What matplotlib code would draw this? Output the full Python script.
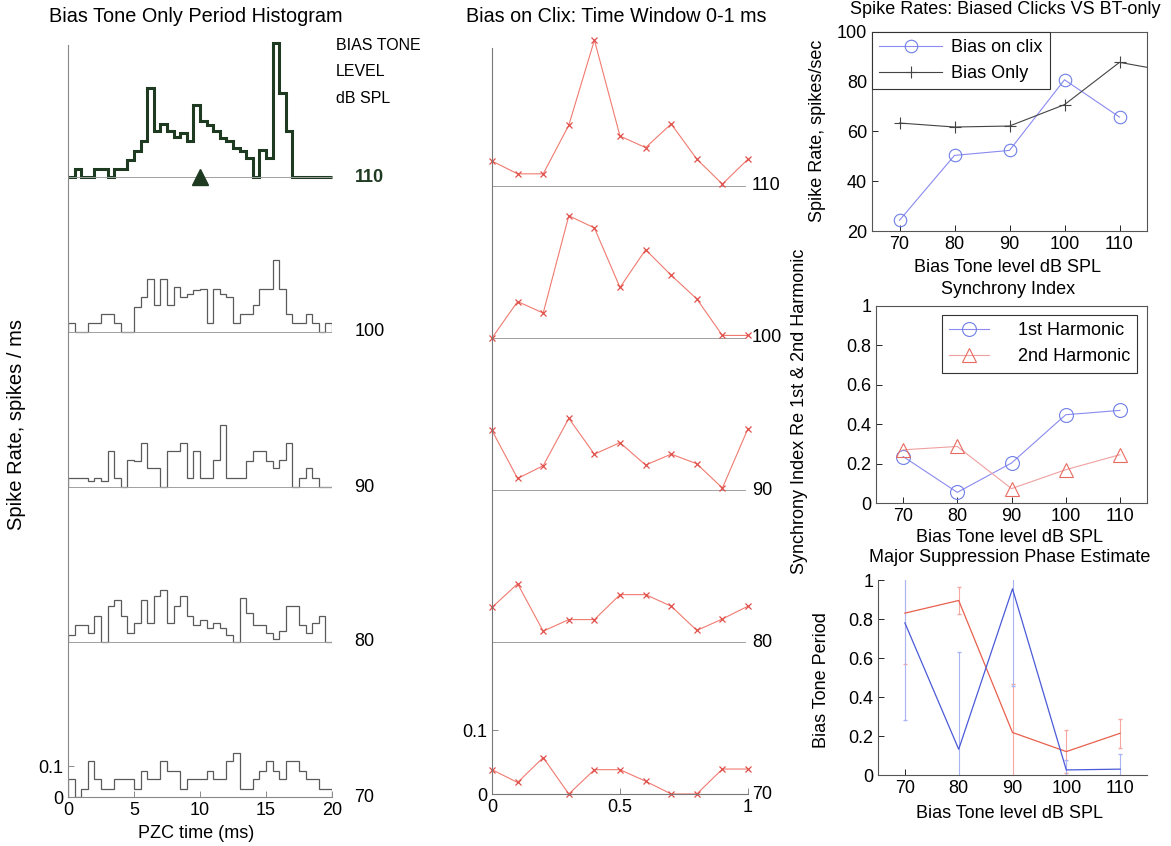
import numpy as np
import matplotlib
matplotlib.use('Agg')
import matplotlib.pyplot as plt

plt.rcParams['font.family'] = ['Liberation Sans', 'DejaVu Sans']
plt.rcParams['font.size'] = 13
plt.rcParams['xtick.direction'] = 'in'
plt.rcParams['ytick.direction'] = 'in'

# ---- data: period histograms (spikes/ms), 0.5 ms bins over 0-20 ms
levels = [70, 80, 90, 100, 110]
hist_70 = [.059, 0, .026, .116, .059, .026, .026, .059, .059, .059,
           .026, .084, .059, .059, .116, .084, .084, .026, .059, .059,
           .059, .084, .059, .059, .116, .143, .026, .026, .059, .084,
           .116, .084, .059, .116, .116, .084, .059, .059, .026, .026]
hist_80 = [.024, .056, .056, .029, .083, 0, .115, .137, .083, .029,
           .061, .137, .061, .147, .169, .061, .115, .147, .083, .056,
           .072, .045, .061, .045, .024, 0, .142, .094, .056, .056,
           .029, .011, .034, .115, .115, .056, .029, .061, .083, 0]
hist_90 = [.029, .029, .029, .018, .029, .018, .115, .029, 0, .086,
           .083, .142, .061, .061, 0, .115, .115, .142, .029, .115,
           .029, .029, .088, .201, .029, .029, .029, .083, .115, .115,
           .083, .061, .088, .142, 0, .029, .061, .029, 0, 0]
hist_100 = [.029, 0, 0, .029, .029, .059, .059, .029, 0, 0,
            .081, .113, .172, .086, .172, .086, .145, .113, .124, .137,
            .140, .029, .140, .124, .113, .029, .059, .059, .086, .140,
            .140, .231, .140, .059, .029, .029, .059, .029, 0, .029]
hist_110 = [0, .027, 0, 0, .027, .027, 0, .027, .027, .056,
            .083, .115, .287, .147, .171, .147, .128, .142, .115, .231,
            .180, .169, .147, .126, .117, .094, .083, .061, 0, .088,
            .061, .432, .271, .149, 0, 0, 0, 0, 0, 0]
hists = [hist_70, hist_80, hist_90, hist_100, hist_110]
bin_edges = np.linspace(0, 20, 41)
marker_time = 10

# ---- data: bias on clicks, 0-1 ms window
win_t = np.linspace(0, 1, 11)
win_70 = [.038, .018, .057, 0, .038, .038, .020, 0, 0, .039, .039]
win_80 = [.054, .091, .017, .035, .035, .074, .074, .056, .018, .036, .056]
win_90 = [.093, .018, .038, .112, .056, .074, .039, .056, .041, .003, .096]
win_100 = [0, .057, .039, .191, .172, .079, .138, .098, .061, .004, .004]
win_110 = [.039, .019, .019, .095, .228, .078, .060, .097, .042, .003, .042]
wins = [win_70, win_80, win_90, win_100, win_110]

# ---- data: summary panels
rate_clix = [24.3, 50.4, 52.4, 80.8, 65.8]
rate_only_lv = [70, 80, 90, 100, 110, 120]
rate_only = [63.4, 61.8, 62.2, 70.8, 87.8, 83.8]
sync_h1 = [0.236, 0.054, 0.203, 0.448, 0.47]
sync_h2 = [0.27, 0.287, 0.073, 0.169, 0.245]
phase_b = [0.78, 0.132, 0.955, 0.026, 0.03]
phase_b_err = [0.5, 0.5, 0.5, 0.05, 0.08]
phase_r = [0.83, 0.895, 0.218, 0.12, 0.214]
phase_r_err = [0.26, 0.07, 0.25, 0.11, 0.075]

W, H = 1171, 846
fig = plt.figure(figsize=(W / 100, H / 100), dpi=100)


def rect(left, top, right, bottom):
    return [left / W, 1 - bottom / H, (right - left) / W, (bottom - top) / H]


def ftext(x, y, s, **kw):
    fig.text(x / W, 1 - y / H, s, **kw)


# ---------------- left: period histograms
ax1 = fig.add_axes(rect(68, 45, 332, 797))
hist_off = [0, 0.5, 1.0, 1.5, 2.0]
for lv, h, off in zip(levels, hists, hist_off):
    vals = np.array(h) + off
    ax1.plot([0, 20], [off, off], color='#a0a0a0', lw=0.7)
    if lv == 110:
        ax1.stairs(vals, bin_edges, baseline=off, color='#1e3a20', lw=2.2,
                   clip_on=False)
        ax1.plot(marker_time, off, marker='^', color='#1e3a20', ms=12,
                 clip_on=False)
        ax1.text(21.7, off, str(lv), va='center', ha='left',
                 color='#1e3a20', fontweight='bold', clip_on=False)
    else:
        ax1.stairs(vals, bin_edges, baseline=off, color='#5a5a5a', lw=0.9)
        ax1.text(21.7, off, str(lv), va='center', ha='left', clip_on=False)
ax1.set_xlim(0, 20)
ax1.set_ylim(0, (797 - 45) / 310)
ax1.set_xticks([0, 5, 10, 15, 20])
ax1.set_yticks([0, 0.1])
ax1.set_yticklabels(['0', '0.1'])
ax1.tick_params(length=4, width=0.6, color='#777')
for s in ['top', 'right']:
    ax1.spines[s].set_visible(False)
for s in ['left', 'bottom']:
    ax1.spines[s].set_color('#888')
    ax1.spines[s].set_linewidth(0.8)

ftext(196, 17, 'Bias Tone Only Period Histogram', ha='center', va='center',
      fontsize=14.3)
ftext(17, 424, 'Spike Rate, spikes / ms', rotation=90, ha='center',
      va='center', fontsize=14.5)
ftext(196, 833, 'PZC time (ms)', ha='center', va='center')
ftext(336, 45, 'BIAS TONE', ha='left', va='center', fontsize=11.5)
ftext(336, 72, 'LEVEL', ha='left', va='center', fontsize=11.5)
ftext(336, 98, 'dB SPL', ha='left', va='center', fontsize=11.5)

# ---------------- middle: bias on clicks
ax2 = fig.add_axes(rect(492, 48, 748, 794))
win_off = [0, 0.2375, 0.475, 0.7125, 0.95]
for lv, w, off in zip(levels, wins, win_off):
    ax2.plot([0, 0.99], [off, off], color='#a0a0a0', lw=0.7)
    ax2.plot(win_t, np.array(w) + off, color='#f07a70', lw=0.8,
             marker='x', ms=4, mew=0.9, mec='#e0504a', clip_on=False)
    ax2.text(1.016, off, str(lv), va='center', ha='left', clip_on=False)
ax2.set_xlim(0, 1)
ax2.set_ylim(0, (794 - 48) / 640)
ax2.set_xticks([0, 0.5, 1])
ax2.set_xticklabels(['0', '0.5', '1'])
ax2.set_yticks([0, 0.1])
ax2.set_yticklabels(['0', '0.1'])
ax2.tick_params(length=4, width=0.6, color='#777')
for s in ['top', 'right']:
    ax2.spines[s].set_visible(False)
for s in ['left', 'bottom']:
    ax2.spines[s].set_color('#777')
    ax2.spines[s].set_linewidth(0.8)
ftext(616, 17, 'Bias on Clix: Time Window 0-1 ms', ha='center', va='center',
      fontsize=14.2)

# ---------------- right top: spike rates
ax3 = fig.add_axes(rect(872, 32, 1147, 231))
ax3.plot(levels, rate_clix, color='#8a8af0', lw=0.8, marker='o', ms=9,
         mfc='none', mec='#6f7fe6', mew=0.8, label='Bias on clix')
ax3.plot(rate_only_lv, rate_only, color='#444', lw=0.8, marker='+', ms=9,
         mew=0.8, label='Bias Only')
ax3.set_xlim(65, 115)
ax3.set_ylim(20, 100)
ax3.set_xticks([70, 80, 90, 100, 110])
ax3.set_yticks([20, 40, 60, 80, 100])
leg = ax3.legend(loc='upper left', bbox_to_anchor=(0, 1), borderaxespad=0,
                 fancybox=False, edgecolor='#333', fontsize=13,
                 handlelength=3.5, handletextpad=0.5, framealpha=1)
leg.get_frame().set_linewidth(0.8)
ftext(1005, 10, 'Spike Rates: Biased Clicks VS BT-only', ha='center',
      va='center')
ftext(817, 131, 'Spike Rate, spikes/sec', rotation=90, ha='center',
      va='center')
ftext(1008, 268, 'Bias Tone level dB SPL', ha='center', va='center')

# ---------------- right middle: synchrony
ax4 = fig.add_axes(rect(876, 306, 1147, 503))
ax4.plot(levels, sync_h1, color='#8a8af0', lw=0.8, marker='o', ms=10,
         mfc='none', mec='#6f7fe6', mew=0.8, label='1st Harmonic')
ax4.plot(levels, sync_h2, color='#f0a0a0', lw=0.8, marker='^', ms=10,
         mfc='none', mec='#e86a60', mew=0.8, label='2nd Harmonic')
ax4.set_xlim(65, 115)
ax4.set_ylim(0, 1)
ax4.set_xticks([70, 80, 90, 100, 110])
ax4.set_yticks([0, 0.2, 0.4, 0.6, 0.8, 1])
ax4.set_yticklabels(['0', '0.2', '0.4', '0.6', '0.8', '1'])
leg = ax4.legend(loc='upper right', bbox_to_anchor=(0.963, 0.954),
                 borderaxespad=0, fancybox=False, edgecolor='#333',
                 fontsize=13, handlelength=2.2, handletextpad=1.6,
                 framealpha=1)
leg.get_frame().set_linewidth(0.8)
ftext(1008, 290, 'Synchrony Index', ha='center', va='center')
ftext(800, 411, 'Synchrony Index Re 1st & 2nd Harmonic', rotation=90,
      ha='center', va='center')
ftext(1010, 537, 'Bias Tone level dB SPL', ha='center', va='center')

# ---------------- right bottom: suppression phase
ax5 = fig.add_axes(rect(878, 580, 1147, 775))
ax5.errorbar(levels, phase_r, yerr=phase_r_err, color='#e8604e', lw=0.9,
             ecolor='#f6a8a0', elinewidth=0.8, capsize=1.5)
ax5.errorbar(levels, phase_b, yerr=phase_b_err, color='#4a5ad8', lw=0.9,
             ecolor='#a8b4f4', elinewidth=0.8, capsize=1.5)
ax5.set_xlim(65, 115)
ax5.set_ylim(0, 1)
ax5.set_xticks([70, 80, 90, 100, 110])
ax5.set_yticks([0, 0.2, 0.4, 0.6, 0.8, 1])
ax5.set_yticklabels(['0', '0.2', '0.4', '0.6', '0.8', '1'])
for s in ['top', 'right']:
    ax5.spines[s].set_visible(False)
ftext(1010, 558, 'Major Suppression Phase Estimate', ha='center', va='center')
ftext(822, 680, 'Bias Tone Period', rotation=90, ha='center', va='center')
ftext(1010, 813, 'Bias Tone level dB SPL', ha='center', va='center')

for ax in [ax3, ax4, ax5]:
    ax.tick_params(length=4, width=0.6, labelsize=13)
    for s in ax.spines.values():
        s.set_linewidth(0.8)
        s.set_color('#555')

fig.savefig('out.png', dpi=100)
